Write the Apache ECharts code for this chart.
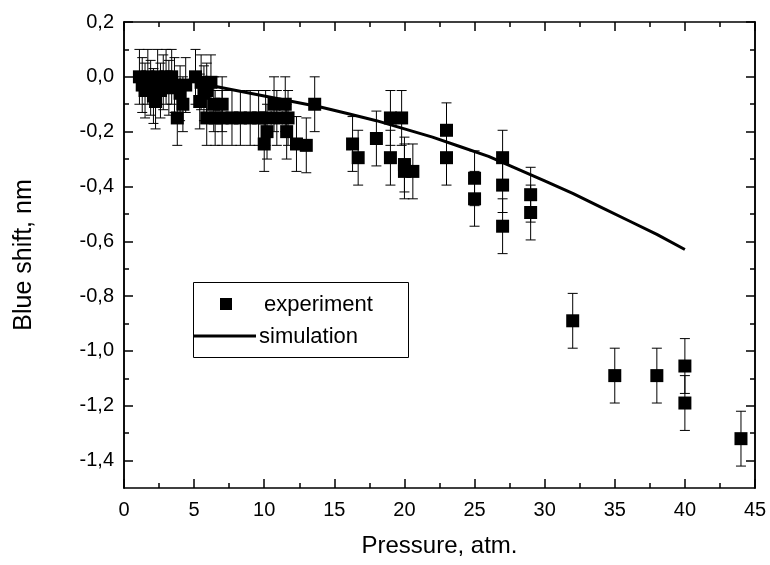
<!DOCTYPE html>
<html>
<head>
<meta charset="utf-8">
<script src="https://cdn.jsdelivr.net/npm/echarts@6/dist/echarts.min.js"></script>
<style>html,body{margin:0;padding:0;background:#fff}#c{width:770px;height:565px}</style>
</head>
<body>
<div id="c"></div>
<script>
// Experimental points (pressure, atm ; blue shift, nm ; error, nm)
var expX = [1.1,1.3,1.5,1.7,1.9,2.1,2.25,2.4,2.6,2.8,3.0,3.2,3.4,3.6,3.8,4.0,4.2,4.4,
            5.1,5.4,5.5,5.7,5.9,5.9,6.2,6.4,6.5,7.0,7.0,7.7,8.3,9.0,9.6,10.0,10.1,10.2,10.7,10.9,11.5,11.6,11.7,12.3,13.0,13.6,
            16.3,16.7,18.0,19.0,19.0,19.8,20.0,20.0,20.6,23.0,23.0,25.0,25.0,27.0,27.0,27.0,29.0,29.0,
            32.0,35.0,38.0,40.0,40.0,44.0];
var expY = [0.0,-0.03,-0.05,0.0,-0.04,-0.07,-0.09,0.0,-0.05,-0.02,0.0,-0.04,0.0,-0.03,-0.15,-0.06,-0.10,-0.03,
            0.0,-0.09,-0.02,-0.06,-0.05,-0.15,-0.02,-0.10,-0.15,-0.10,-0.15,-0.15,-0.15,-0.15,-0.15,-0.245,-0.15,-0.20,-0.10,-0.15,-0.10,-0.20,-0.15,-0.245,-0.25,-0.10,
            -0.245,-0.295,-0.225,-0.15,-0.295,-0.15,-0.32,-0.345,-0.345,-0.195,-0.295,-0.37,-0.445,-0.295,-0.395,-0.545,-0.43,-0.495,
            -0.89,-1.09,-1.09,-1.055,-1.19,-1.32];
var expErr = expY.map(function(){ return 0.1; });

// Simulation curve
var simX = [6,8,10,12,14,16,18,20,22,24,26,28,30,32,34,36,38,40];
var simY = [-0.03,-0.05,-0.07,-0.09,-0.11,-0.135,-0.16,-0.19,-0.22,-0.255,-0.29,-0.335,-0.38,-0.425,-0.475,-0.525,-0.575,-0.63];

// Axis ticks
var yMajor = [0.2,0.0,-0.2,-0.4,-0.6,-0.8,-1.0,-1.2,-1.4];
var yMinor = [0.1,-0.1,-0.3,-0.5,-0.7,-0.9,-1.1,-1.3];
var legendNames = ['experiment', 'simulation'];

var FONT = '"Liberation Sans", Arial, sans-serif';
var chart = echarts.init(document.getElementById('c'), null, {renderer: 'canvas'});

function xAx(pos, showLabel) {
  return {
    type: 'value', position: pos, min: 0, max: 45, interval: 5,
    axisLine: {show: true, onZero: false, lineStyle: {color: '#000', width: 1.5}},
    axisTick: {show: true, inside: true, length: 9, lineStyle: {color: '#000', width: 1.5}},
    minorTick: {show: true, splitNumber: 2, length: 5, lineStyle: {color: '#000', width: 1.5}},
    axisLabel: {show: showLabel, color: '#000', fontSize: 20, fontFamily: FONT, margin: 12},
    splitLine: {show: false}, minorSplitLine: {show: false},
    name: showLabel ? 'Pressure, atm.' : '', nameLocation: 'middle', nameGap: 46,
    nameTextStyle: {color: '#000', fontSize: 24, fontFamily: FONT}
  };
}
function yAx(pos, ticks, len, showLabel) {
  return {
    type: 'value', position: pos, min: -1.5, max: 0.2, interval: 0.1,
    axisLine: {show: true, onZero: false, lineStyle: {color: '#000', width: 1.5}},
    axisTick: {show: true, inside: true, length: len, customValues: ticks, lineStyle: {color: '#000', width: 1.5}},
    axisLabel: {show: showLabel, customValues: ticks, color: '#000', fontSize: 20, fontFamily: FONT, margin: 10,
      formatter: function(v){ return v.toFixed(1).replace('.', ','); }},
    splitLine: {show: false},
    name: showLabel ? 'Blue shift, nm' : '', nameLocation: 'middle', nameGap: 87, nameRotate: 90,
    nameTextStyle: {color: '#000', fontSize: 25, fontFamily: FONT}
  };
}

var errData = expX.map(function(x, i){ return [x, expY[i], expErr[i]]; });
var expData = expX.map(function(x, i){ return [x, expY[i]]; });
var simData = simX.map(function(x, i){ return [x, simY[i]]; });

chart.setOption({
  animation: false,
  backgroundColor: '#fff',
  textStyle: {fontFamily: FONT},
  grid: {left: 124, right: 15, top: 22, bottom: 77, containLabel: false},
  xAxis: [xAx('bottom', true), xAx('top', false)],
  yAxis: [yAx('left', yMajor, 9, true), yAx('left', yMinor, 5, false), yAx('right', yMajor, 9, false), yAx('right', yMinor, 5, false)],
  graphic: [
    {type: 'rect', left: 193, top: 282, z: 10, shape: {width: 215, height: 75},
     style: {fill: '#fff', stroke: '#000', lineWidth: 1}},
    {type: 'rect', left: 220, top: 298, z: 11, shape: {width: 12, height: 12}, style: {fill: '#000'}},
    {type: 'line', z: 11, shape: {x1: 193, y1: 336, x2: 256, y2: 336}, style: {stroke: '#000', lineWidth: 3}},
    {type: 'text', left: 264, top: 294, z: 11, style: {text: legendNames[0], fill: '#000', font: '22px ' + FONT}},
    {type: 'text', left: 259, top: 326, z: 11, style: {text: legendNames[1], fill: '#000', font: '22px ' + FONT}}
  ],
  series: [
    {
      type: 'custom', name: 'err', xAxisIndex: 0, yAxisIndex: 0, z: 2,
      data: errData, encode: {x: 0, y: 1},
      renderItem: function(params, api) {
        var x = api.value(0), y = api.value(1), e = api.value(2);
        var top = api.coord([x, y + e]);
        var bot = api.coord([x, y - e]);
        var hw = 5;
        var st = {stroke: '#000', lineWidth: 1};
        return {type: 'group', children: [
          {type: 'line', shape: {x1: top[0], y1: top[1], x2: bot[0], y2: bot[1]}, style: st},
          {type: 'line', shape: {x1: top[0]-hw, y1: top[1], x2: top[0]+hw, y2: top[1]}, style: st},
          {type: 'line', shape: {x1: bot[0]-hw, y1: bot[1], x2: bot[0]+hw, y2: bot[1]}, style: st}
        ]};
      }
    },
    {
      type: 'scatter', name: legendNames[0], xAxisIndex: 0, yAxisIndex: 0, z: 3,
      symbol: 'rect', symbolSize: 13, data: expData,
      itemStyle: {color: '#000', opacity: 1}
    },
    {
      type: 'line', name: legendNames[1], xAxisIndex: 0, yAxisIndex: 0, z: 4,
      data: simData, showSymbol: false, symbol: 'none', smooth: false,
      lineStyle: {color: '#000', width: 3}, itemStyle: {color: '#000'}
    }
  ]
});
</script>
</body>
</html>
